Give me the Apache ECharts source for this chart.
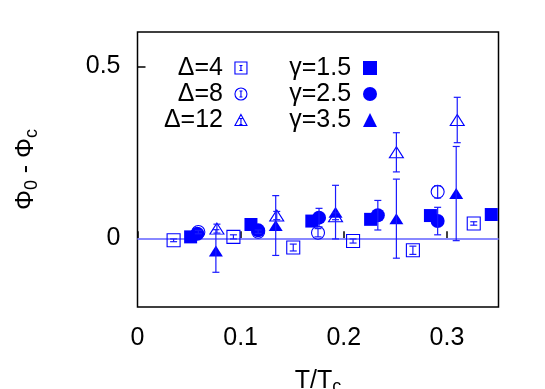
<!DOCTYPE html>
<html><head><meta charset="utf-8">
<script src="https://cdn.jsdelivr.net/npm/echarts@6/dist/echarts.min.js"></script>
<style>html,body{margin:0;padding:0;background:#fff}#c{width:545px;height:389px}</style>
</head><body><div id="c"></div>
<script>
// Tick labels
const xTicks = [0, 0.1, 0.2, 0.3];
const yTicks = [0, 0.5];
// Series names
const names = ['Δ=4', 'Δ=8', 'Δ=12', 'γ=1.5', 'γ=2.5', 'γ=3.5'];
// Data: [T/Tc, Φ0-Φc, error]
const delta4 = [[0.035,-0.006,0.004],[0.093,0.004,0.006],[0.151,-0.027,0.010],[0.209,-0.008,0.006],[0.267,-0.035,0.012],[0.326,0.043,0.005]];
const delta8 = [[0.059,0.018,0.005],[0.117,0.019,0.005],[0.175,0.016,0.012],[0.291,0.135,0.018]];
const delta12 = [[0.077,0.028,0.013],[0.135,0.066,0.012],[0.192,0.064,0.010],[0.251,0.250,0.057],[0.310,0.344,0.066]];
const gamma15 = [[0.0515,0.004,0],[0.110,0.040,0],[0.169,0.050,0],[0.226,0.055,0],[0.284,0.066,0],[0.343,0.069,0]];
const gamma25 = [[0.058,0.013,0],[0.117,0.023,0],[0.176,0.060,0.027],[0.233,0.067,0.043],[0.291,0.050,0.040]];
const gamma35 = [[0.076,-0.037,0.062],[0.134,0.037,0.087],[0.192,0.076,0.078],[0.251,0.057,0.115],[0.309,0.130,0.137]];

const FONT = "'Liberation Sans', Arial, Helvetica, sans-serif";
const BLUE = '#0000ff';
const open = {color: 'rgba(0,0,0,0)', borderColor: BLUE, borderWidth: 1.1, opacity: 1};
const filled = {color: BLUE, opacity: 1};

function errRender(params, api) {
  const x = api.value(0), y = api.value(1), e = api.value(2);
  if (!e) return null;
  const t = api.coord([x, y + e]), b = api.coord([x, y - e]);
  const w = 3.5;
  const st = {stroke: '#1a1aff', lineWidth: 1.2};
  return {type: 'group', children: [
    {type: 'line', shape: {x1: t[0], y1: t[1], x2: b[0], y2: b[1]}, style: st},
    {type: 'line', shape: {x1: t[0]-w, y1: t[1], x2: t[0]+w, y2: t[1]}, style: st},
    {type: 'line', shape: {x1: b[0]-w, y1: b[1], x2: b[0]+w, y2: b[1]}, style: st}
  ]};
}
function errSeries(data) {
  return {type: 'custom', renderItem: errRender, data: data, encode: {x: 0, y: 1}, z: 4, silent: true};
}

const sets = [delta4, delta8, delta12, gamma15, gamma25, gamma35];
const symbols = ['rect', 'circle', 'triangle', 'rect', 'circle', 'triangle'];
const sizes = [13, 13, [14, 11], 13, 14, [14, 11]];
const series = [];
sets.forEach((d, i) => {
  series.push({
    name: names[i], type: 'scatter', data: d.map(p => [p[0], p[1]]),
    symbol: symbols[i], symbolSize: sizes[i],
    itemStyle: i < 3 ? open : filled, z: i < 3 ? 3 : 2, silent: true
  });
});
series[0].markLine = {silent: true, symbol: 'none', label: {show: false},
  lineStyle: {color: '#8888ff', width: 2, type: 'solid', opacity: 1}, data: [{yAxis: 0}], z: 1};
sets.forEach(d => series.push(errSeries(d)));

const iconSq = 'path://M0,0H12V12H0Z M6,3.5V8.5 M4.5,3.5H7.5 M4.5,8.5H7.5';
const iconCi = 'path://M6,0A6,6,0,1,1,5.99,0Z M6,3V9 M4.5,3H7.5 M4.5,9H7.5';
const iconTr = 'path://M6,0L12,11H0Z M6,4V10 M4.5,4H7.5 M4.5,10H7.5';

const legendCommon = {orient: 'vertical', align: 'right', itemGap: 0, padding: 0, selectedMode: false,
  top: 55, formatter: n => n + ' ',
  textStyle: {fontSize: 25, lineHeight: 26, color: '#000', fontFamily: FONT}};

const option = {
  animation: false,
  grid: {left: 137.5, right: 46.5, top: 32, bottom: 82, show: true, borderColor: '#000', borderWidth: 1.5,
    outerBoundsMode: 'none', containLabel: false},
  xAxis: {type: 'value', min: 0, max: 0.35,
    axisLine: {show: false}, splitLine: {show: false},
    axisTick: {inside: true, length: 7, lineStyle: {color: '#000', width: 1.5}, customValues: xTicks},
    axisLabel: {fontSize: 25, color: '#000', fontFamily: FONT, margin: 19, customValues: xTicks, formatter: v => String(v)},
    name: 'T/T{s|c}', nameLocation: 'middle', nameGap: 59,
    nameTextStyle: {fontSize: 25, color: '#000', fontFamily: FONT, lineHeight: 30,
      rich: {s: {fontSize: 18, color: '#000', fontFamily: FONT, verticalAlign: 'bottom', lineHeight: 18}}}
  },
  yAxis: {type: 'value', min: -0.2, max: 0.6,
    axisLine: {show: false}, splitLine: {show: false},
    axisTick: {inside: true, length: 8, lineStyle: {color: '#000', width: 1.5}, customValues: yTicks},
    axisLabel: {fontSize: 25, color: '#000', fontFamily: FONT, margin: 17, customValues: yTicks, formatter: v => String(v)},
    name: 'Φ{s|0} - Φ{s|c}', nameLocation: 'middle', nameGap: 96, nameRotate: 90,
    nameTextStyle: {fontSize: 25, color: '#000', fontFamily: FONT, lineHeight: 30,
      rich: {s: {fontSize: 18, color: '#000', fontFamily: FONT, verticalAlign: 'bottom', lineHeight: 18}}}
  },
  legend: [
    Object.assign({}, legendCommon, {right: 297.5, itemWidth: 12, itemHeight: 12,
      data: [
        {name: names[0], icon: iconSq, itemStyle: open},
        {name: names[1], icon: iconCi, itemStyle: open},
        {name: names[2], icon: iconTr, itemStyle: open}
      ]}),
    Object.assign({}, legendCommon, {right: 168, itemWidth: 14, itemHeight: 14,
      data: [
        {name: names[3], icon: 'rect', itemStyle: filled},
        {name: names[4], icon: 'circle', itemStyle: filled},
        {name: names[5], icon: 'triangle', itemStyle: filled}
      ]})
  ],
  series: series
};
const chart = echarts.init(document.getElementById('c'), null, {renderer: 'canvas'});
chart.setOption(option);
</script>
</body></html>
